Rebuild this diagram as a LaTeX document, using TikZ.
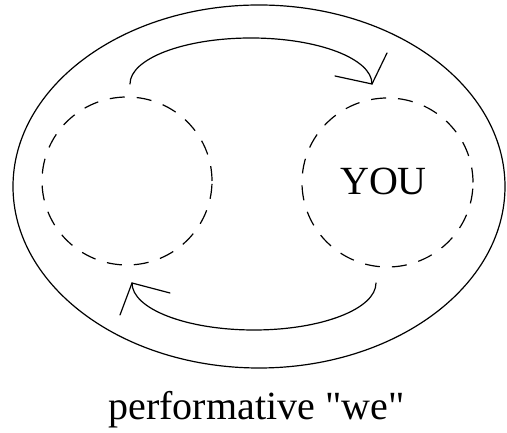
\documentclass[tikz,border=0pt]{standalone}
\usepackage{fontspec}
\setmainfont{Liberation Serif}[Ligatures=TeXOff]
\usetikzlibrary{shapes.geometric}
\begin{document}
\begin{tikzpicture}[x=1pt,y=1pt,
  line width=1.2pt,
  member/.style={draw, ellipse, dash pattern=on 15pt off 12pt, inner sep=0pt},
  bigtext/.style={font=\fontsize{40}{48}\selectfont, inner sep=0pt},
  flow/.style={line cap=round}]
\useasboundingbox (0,0) rectangle (507,433);
% outer ellipse
\node[draw, ellipse, minimum width=492pt, minimum height=363pt, inner sep=0pt] (outer) at (259,246.5) {};
% members
\node[member, minimum width=170pt, minimum height=168pt] (left) at (127,252) {};
\node[member, minimum width=171pt, minimum height=169pt] (right) at (387.5,250.5) {};
\node[bigtext] (you) at (383.5,251.5) {YOU};
% caption
\node[bigtext, anchor=base] (caption) at (256.5,13) {performative "we"};
% top arc arrow
\coordinate (ts) at (130,349);
\coordinate (tt) at (372,349);
\draw[flow] (ts) arc[start angle=180, end angle=0, x radius=121pt, y radius=46pt];
\coordinate (th1) at (387,380);
\coordinate (th2) at (335,357);
\draw[flow] (th1) -- (tt) -- (th2);
% bottom arc arrow
\coordinate (bs) at (376,150);
\coordinate (bt) at (132,150);
\draw[flow] (bs) arc[start angle=0, end angle=-180, x radius=122pt, y radius=47pt];
\coordinate (bh1) at (120,118);
\coordinate (bh2) at (170,140);
\draw[flow] (bh1) -- (bt) -- (bh2);
\end{tikzpicture}
\end{document}
